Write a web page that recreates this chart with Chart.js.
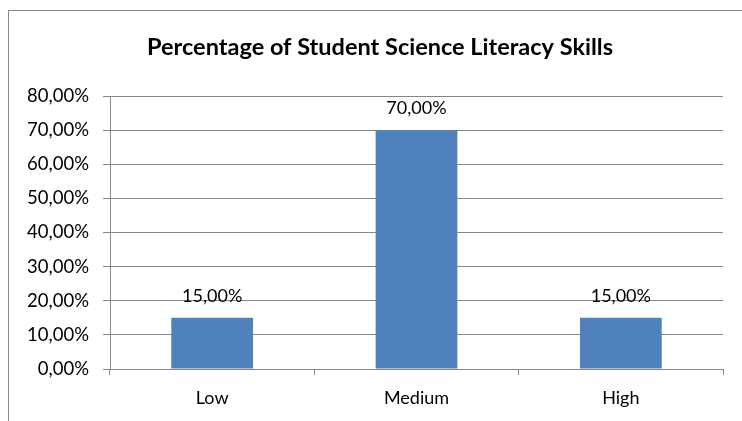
<!DOCTYPE html>
<html>
<head>
<meta charset="utf-8">
<script src="https://cdn.jsdelivr.net/npm/chart.js@4/dist/chart.umd.min.js"></script>
<style>
html,body{margin:0;padding:0;background:#fff;}
#wrap{width:742px;height:421px;position:relative;}
</style>
</head>
<body>
<div id="wrap"><canvas id="c" width="742" height="421"></canvas></div>
<script>
const categories = ['Low', 'Medium', 'High'];
const percentages = [15, 70, 15];
const yTicks = [0, 10, 20, 30, 40, 50, 60, 70, 80];
const chartTitle = 'Percentage of Student Science Literacy Skills';

const fmt = v => v.toFixed(2).replace('.', ',') + '%';
const FONT = 'Lato, "Open Sans", sans-serif';
const GRID = '#868686';

const borderPlugin = {
  id: 'outerBorder',
  beforeDraw(chart) {
    const ctx = chart.ctx;
    ctx.save();
    ctx.strokeStyle = '#8c8c8c';
    ctx.lineWidth = 1;
    ctx.strokeRect(8.5, 10.5, 800, 500);
    ctx.font = 'bold 23.5px ' + FONT;
    ctx.fillStyle = '#000';
    ctx.textAlign = 'center';
    ctx.textBaseline = 'alphabetic';
    ctx.fillText(chartTitle, 380, 55);
    ctx.restore();
  }
};

const labelPlugin = {
  id: 'dataLabels',
  afterDatasetsDraw(chart) {
    const ctx = chart.ctx;
    const meta = chart.getDatasetMeta(0);
    ctx.save();
    ctx.font = '18px ' + FONT;
    ctx.fillStyle = '#000';
    ctx.textAlign = 'center';
    ctx.textBaseline = 'middle';
    meta.data.forEach((bar, i) => {
      ctx.fillText(fmt(percentages[i]), bar.x, bar.y - 22);
    });
    ctx.restore();
  }
};

new Chart(document.getElementById('c'), {
  type: 'bar',
  data: {
    labels: categories,
    datasets: [{
      data: percentages,
      backgroundColor: '#4F81BD',
      borderWidth: 0,
      categoryPercentage: 1,
      barPercentage: 0.40
    }]
  },
  options: {
    responsive: false,
    animation: false,
    devicePixelRatio: 1,
    layout: { padding: { left: 0, right: 19, top: 96, bottom: 0 } },
    plugins: {
      legend: { display: false },
      tooltip: { enabled: false },
      title: { display: false }
    },
    scales: {
      x: {
        grid: { display: true, drawOnChartArea: false, drawTicks: true, tickLength: 6, color: GRID, offset: true },
        border: { display: true, color: GRID, width: 1 },
        ticks: { color: '#000', font: { family: FONT, size: 18 }, padding: 12 },
        afterFit(scale) { scale.height = 421 - 369; }
      },
      y: {
        min: 0,
        max: 80,
        afterBuildTicks(scale) { scale.ticks = yTicks.map(v => ({ value: v })); },
        grid: { color: GRID, tickLength: 7, drawTicks: true },
        border: { display: true, color: GRID, width: 1 },
        ticks: { color: '#000', font: { family: FONT, size: 18.5 }, padding: 14, callback: v => fmt(v) },
        afterFit(scale) { scale.width = 110; }
      }
    }
  },
  plugins: [borderPlugin, labelPlugin]
});
</script>
</body>
</html>
